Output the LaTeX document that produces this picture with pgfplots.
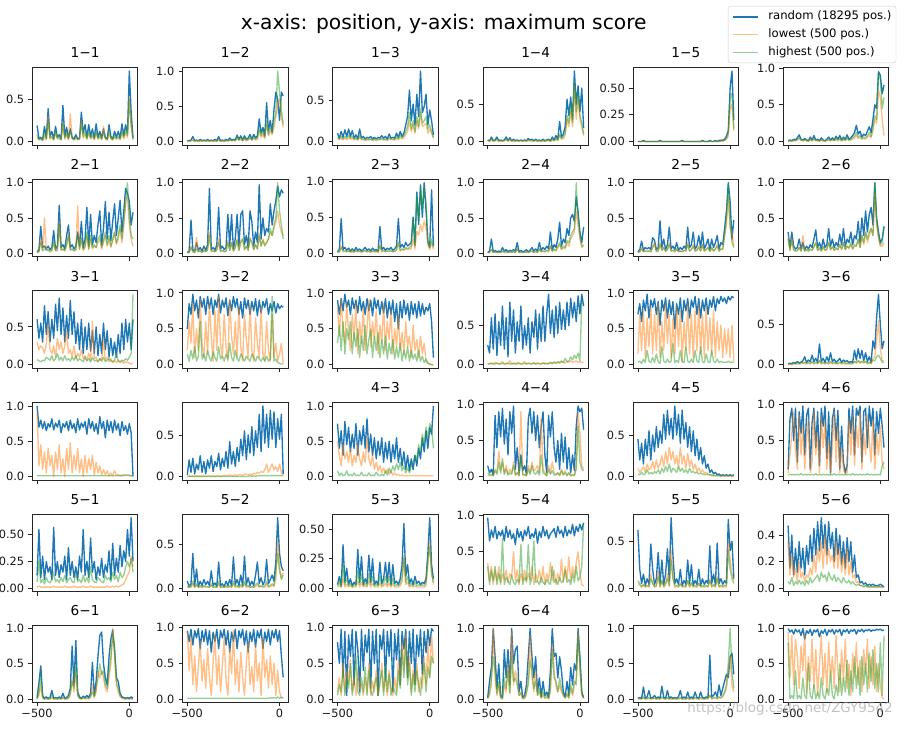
\documentclass[border=0pt]{standalone}
\usepackage{fontspec}
\setmainfont{DejaVu Sans}
\usepackage{pgfplots}
\usepackage{pgfplotstable}
\pgfplotsset{compat=1.18}
\definecolor{mb}{HTML}{1F77B4}
\definecolor{mo}{HTML}{FF7F0E}
\definecolor{mg}{HTML}{2CA02C}
\newcommand\tickfont{\fontsize{11.4}{13}\selectfont}
\newcommand\legfont{\fontsize{11.7}{13}\selectfont}
\pgfplotsset{
  panel/.style={scale only axis, width=105.5bp, height=77.5bp, anchor=south west,
    xmin=-526, xmax=46, xtick={-500,0}, xticklabels={},
    tick align=outside, tick pos=left, major tick length=4bp,
    every tick/.style={black!85, line width=0.8bp},
    axis line style={black!85, line width=0.8bp},
    /pgf/number format/assume math mode=true,
    tick label style={font=\tickfont, text=black!90},
    yticklabel style={font=\tickfont, inner sep=0pt, xshift=-4bp},
    xticklabel style={font=\tickfont, inner sep=0pt, yshift=-2.5bp},
    title style={at={(0.5,1)}, anchor=base, yshift=3.6bp, inner sep=0pt, font=\fontsize{13.7}{16}\selectfont},
    every axis plot/.append style={line width=1.35bp, line join=round, no markers},
  },
  yA/.style={ytick={0,50}, yticklabels={0.0,0.5}},
  yB/.style={ytick={0,50,100}, yticklabels={0.0,0.5,1.0}},
  yC/.style={ytick={0,25,50}, yticklabels={0.00,0.25,0.50}},
  yD/.style={ytick={0,20,40}, yticklabels={0.0,0.2,0.4}},
  xl/.style={xticklabels={−500,0}},
}
\newcommand\panel[6]{%
  \pgfmathsetmacro\ylo{-0.05*#5}\pgfmathsetmacro\yhi{1.05*#5}%
  \begin{axis}[panel, at={(#1bp,#2bp)}, title={#3}, ymin=\ylo, ymax=\yhi, #6]
    \addplot[mb] table[x index=0, y index=1]{#4};
    \addplot[mo, draw opacity=0.5] table[x index=0, y index=2]{#4};
    \addplot[mg, draw opacity=0.5] table[x index=0, y index=3]{#4};
  \end{axis}}

% ---------- row 1 ----------
\pgfplotstableread[row sep=\\]{x b o g\\
-500 19 5 8\\ -490 3 2 2\\ -480 5 3 3\\ -470 2 1 2\\ -460 18 6 10\\ -450 4 2 3\\ -440 39 30 25\\ -430 6 3 4\\ -420 12 4 6\\ -410 3 2 2\\
-400 18 10 12\\ -390 5 3 4\\ -380 8 3 5\\ -370 3 2 2\\ -360 43 20 22\\ -350 6 3 4\\ -340 17 8 10\\ -330 4 2 3\\ -320 15 33 12\\ -310 5 3 4\\
-300 3 2 2\\ -290 8 4 5\\ -280 3 2 3\\ -270 4 2 3\\ -260 35 25 22\\ -250 10 4 6\\ -240 20 8 12\\ -230 5 3 3\\ -220 20 10 12\\ -210 6 3 4\\
-200 15 6 8\\ -190 4 2 3\\ -180 21 10 12\\ -170 5 3 3\\ -160 12 5 7\\ -150 4 2 3\\ -140 15 18 10\\ -130 5 3 4\\ -120 3 2 2\\ -110 20 8 12\\
-100 6 3 4\\ -90 3 2 2\\ -80 12 5 7\\ -70 5 3 3\\ -60 12 4 6\\ -50 4 2 3\\ -40 21 10 12\\ -30 7 3 5\\ -20 20 10 14\\ -10 10 5 7\\
0 84 52 50\\ 10 35 20 18\\ 20 4 2 3\\
}\tAA
\pgfplotstableread[row sep=\\]{x b o g\\
-500 1 0 1\\ -490 1 0 1\\ -480 2 1 1\\ -470 7 1 2\\ -460 1 0 1\\ -450 2 1 1\\ -440 1 0 1\\ -430 3 1 1\\ -420 1 0 1\\ -410 2 1 1\\
-400 1 0 1\\ -390 3 1 1\\ -380 1 0 1\\ -370 2 1 1\\ -360 1 0 1\\ -350 3 1 1\\ -340 1 0 1\\ -330 7 2 3\\ -320 1 0 1\\ -310 2 1 1\\
-300 1 0 1\\ -290 3 1 1\\ -280 1 1 1\\ -270 5 2 2\\ -260 2 1 1\\ -250 3 1 2\\ -240 2 1 1\\ -230 9 5 6\\ -220 3 1 2\\ -210 8 3 6\\
-200 2 1 1\\ -190 8 4 5\\ -180 3 1 2\\ -170 5 2 3\\ -160 10 4 6\\ -150 3 2 2\\ -140 10 5 6\\ -130 5 2 3\\ -120 8 3 5\\ -110 32 15 20\\
-100 12 6 8\\ -90 20 10 14\\ -80 8 4 6\\ -70 55 25 30\\ -60 15 8 10\\ -50 30 15 20\\ -40 12 10 15\\ -30 45 20 30\\ -20 70 35 40\\ -10 60 50 100\\
0 30 60 70\\ 10 70 35 45\\ 20 65 20 25\\
}\tAB
\pgfplotstableread[row sep=\\]{x b o g\\
-500 10 3 5\\ -490 4 2 3\\ -480 12 4 6\\ -470 5 2 3\\ -460 14 4 6\\ -450 6 2 4\\ -440 15 5 8\\ -430 6 3 4\\ -420 13 4 6\\ -410 4 2 3\\
-400 8 3 4\\ -390 3 2 2\\ -380 15 5 8\\ -370 4 2 3\\ -360 6 2 3\\ -350 3 1 2\\ -340 5 2 3\\ -330 4 2 2\\ -320 6 2 3\\ -310 3 1 2\\
-300 5 2 3\\ -290 3 1 2\\ -280 5 2 3\\ -270 4 2 2\\ -260 7 3 4\\ -250 4 2 2\\ -240 6 2 3\\ -230 3 1 2\\ -220 9 3 5\\ -210 4 2 3\\
-200 5 2 3\\ -190 4 2 2\\ -180 10 4 6\\ -170 5 2 3\\ -160 12 5 8\\ -150 6 3 4\\ -140 10 5 7\\ -130 20 8 12\\ -120 30 12 18\\ -110 62 25 35\\
-100 25 12 15\\ -90 45 20 25\\ -80 20 10 12\\ -70 57 25 30\\ -60 30 15 18\\ -50 85 35 40\\ -40 35 18 22\\ -30 42 20 25\\ -20 57 22 30\\ -10 20 10 15\\
0 38 15 20\\ 10 25 10 12\\ 20 8 4 5\\
}\tAC
\pgfplotstableread[row sep=\\]{x b o g\\
-500 2 1 1\\ -490 1 0 1\\ -480 6 2 3\\ -470 1 0 1\\ -460 2 1 1\\ -450 6 2 3\\ -440 1 0 1\\ -430 2 1 1\\ -420 1 0 1\\ -410 2 1 1\\
-400 6 2 3\\ -390 1 0 1\\ -380 5 2 3\\ -370 1 0 1\\ -360 3 1 1\\ -350 1 0 1\\ -340 2 1 1\\ -330 1 0 1\\ -320 2 1 1\\ -310 1 0 1\\
-300 2 1 1\\ -290 1 0 1\\ -280 4 1 2\\ -270 2 1 1\\ -260 3 1 1\\ -250 1 0 1\\ -240 3 1 2\\ -230 1 0 1\\ -220 2 1 1\\ -210 1 0 1\\
-200 3 1 1\\ -190 1 0 1\\ -180 2 1 1\\ -170 3 1 2\\ -160 1 0 1\\ -150 6 2 3\\ -140 2 1 1\\ -130 8 3 4\\ -120 3 1 2\\ -110 27 8 10\\
-100 6 3 4\\ -90 10 4 6\\ -80 20 8 12\\ -70 57 30 35\\ -60 35 20 25\\ -50 60 40 50\\ -40 30 20 25\\ -30 95 75 80\\ -20 50 30 40\\ -10 75 60 65\\
0 40 30 35\\ 10 72 20 25\\ 20 18 8 10\\
}\tAD
\pgfplotstableread[row sep=\\]{x b o g\\
-500 0 0 0\\ -490 0 0 0\\ -480 0 0 0\\ -470 1 0 0\\ -460 0 0 0\\ -450 0 0 0\\ -440 0 0 0\\ -430 0 0 0\\ -420 0 0 0\\ -410 0 0 0\\
-400 0 0 0\\ -390 0 0 0\\ -380 1 0 0\\ -370 0 0 0\\ -360 0 0 0\\ -350 0 0 0\\ -340 0 0 0\\ -330 0 0 0\\ -320 0 0 0\\ -310 0 0 0\\
-300 0 0 0\\ -290 0 0 0\\ -280 0 0 0\\ -270 0 0 0\\ -260 1 0 0\\ -250 0 0 0\\ -240 0 0 0\\ -230 0 0 0\\ -220 0 0 0\\ -210 0 0 0\\
-200 0 0 0\\ -190 0 0 0\\ -180 0 0 0\\ -170 0 0 0\\ -160 0 0 0\\ -150 1 0 0\\ -140 0 0 0\\ -130 0 0 0\\ -120 0 0 0\\ -110 1 0 0\\
-100 0 0 0\\ -90 0 0 0\\ -80 1 0 0\\ -70 0 0 0\\ -60 1 0 0\\ -50 1 0 1\\ -40 1 0 1\\ -30 2 1 1\\ -20 5 2 3\\ -10 10 5 8\\
0 50 30 40\\ 10 66 35 45\\ 20 20 10 12\\
}\tAE
\pgfplotstableread[row sep=\\]{x b o g\\
-500 1 0 1\\ -490 2 1 1\\ -480 1 0 1\\ -470 3 1 2\\ -460 2 1 1\\ -450 5 2 3\\ -440 9 4 5\\ -430 3 1 2\\ -420 2 1 1\\ -410 4 2 2\\
-400 2 1 1\\ -390 1 0 1\\ -380 6 2 3\\ -370 2 1 1\\ -360 8 3 4\\ -350 2 1 1\\ -340 3 1 2\\ -330 1 0 1\\ -320 5 2 3\\ -310 2 1 1\\
-300 1 0 1\\ -290 3 1 2\\ -280 6 2 3\\ -270 2 1 1\\ -260 5 2 3\\ -250 2 1 1\\ -240 7 3 4\\ -230 3 1 2\\ -220 8 3 4\\ -210 2 1 1\\
-200 6 2 3\\ -190 3 1 2\\ -180 9 4 5\\ -170 3 1 2\\ -160 5 2 3\\ -150 8 3 5\\ -140 12 5 7\\ -130 22 8 12\\ -120 10 4 6\\ -110 14 6 8\\
-100 6 3 4\\ -90 10 4 6\\ -80 8 3 5\\ -70 14 6 8\\ -60 20 8 12\\ -50 12 5 7\\ -40 30 15 20\\ -30 50 30 35\\ -20 45 25 30\\ -10 95 70 92\\
0 90 60 85\\ 10 65 30 45\\ 20 77 8 60\\
}\tAF
% ---------- row 2 ----------
\pgfplotstableread[row sep=\\]{x b o g\\
-500 2 1 1\\ -490 5 2 2\\ -480 38 20 15\\ -470 8 3 4\\ -460 10 50 6\\ -450 6 5 4\\ -440 10 4 5\\ -430 5 2 3\\ -420 8 3 4\\ -410 32 15 18\\
-400 6 3 4\\ -390 10 4 5\\ -380 68 45 40\\ -370 8 4 5\\ -360 12 5 6\\ -350 6 3 4\\ -340 25 10 12\\ -330 40 28 25\\ -320 8 4 5\\ -310 12 5 6\\
-300 6 3 4\\ -290 10 4 5\\ -280 30 67 25\\ -270 10 5 6\\ -260 45 20 22\\ -250 8 4 5\\ -240 20 8 10\\ -230 65 25 30\\ -220 10 5 6\\ -210 55 20 25\\
-200 12 6 8\\ -190 25 10 12\\ -180 15 8 8\\ -170 40 15 20\\ -160 60 20 25\\ -150 12 6 8\\ -140 35 15 18\\ -130 73 25 30\\ -120 20 10 12\\ -110 58 20 25\\
-100 18 8 10\\ -90 45 18 20\\ -80 70 30 30\\ -70 25 12 15\\ -60 50 20 25\\ -50 75 35 40\\ -40 30 15 20\\ -30 60 40 45\\ -20 92 75 70\\ -10 85 80 100\\
0 73 40 50\\ 10 40 20 25\\ 20 58 10 20\\
}\tBA
\pgfplotstableread[row sep=\\]{x b o g\\
-500 1 0 1\\ -490 3 1 1\\ -480 47 10 8\\ -470 5 2 2\\ -460 3 1 1\\ -450 15 22 6\\ -440 4 2 2\\ -430 8 3 3\\ -420 3 1 1\\ -410 10 4 4\\
-400 4 2 2\\ -390 12 5 5\\ -380 92 30 25\\ -370 5 2 3\\ -360 8 3 3\\ -350 4 2 2\\ -340 12 5 5\\ -330 65 20 15\\ -320 6 2 3\\ -310 10 4 4\\
-300 5 2 2\\ -290 8 3 3\\ -280 55 18 15\\ -270 10 4 4\\ -260 55 15 15\\ -250 6 3 3\\ -240 20 8 8\\ -230 55 20 18\\ -220 10 4 4\\ -210 55 18 15\\
-200 60 20 20\\ -190 12 5 5\\ -180 25 10 10\\ -170 8 4 4\\ -160 60 22 20\\ -150 45 15 15\\ -140 10 5 5\\ -130 30 12 12\\ -120 15 6 6\\ -110 97 28 25\\
-100 20 10 10\\ -90 50 20 18\\ -80 25 12 10\\ -70 35 15 15\\ -60 30 20 20\\ -50 70 30 35\\ -40 40 25 25\\ -30 60 35 40\\ -20 75 45 50\\ -10 95 60 100\\
0 80 40 60\\ 10 90 30 40\\ 20 85 25 20\\
}\tBB
\pgfplotstableread[row sep=\\]{x b o g\\
-500 2 1 1\\ -490 5 2 2\\ -480 48 10 8\\ -470 5 2 3\\ -460 8 3 3\\ -450 4 2 2\\ -440 7 3 3\\ -430 3 1 2\\ -420 6 2 3\\ -410 3 1 2\\
-400 8 3 4\\ -390 4 2 2\\ -380 6 2 3\\ -370 3 1 2\\ -360 5 2 3\\ -350 8 3 4\\ -340 4 2 2\\ -330 6 2 3\\ -320 3 1 2\\ -310 7 3 3\\
-300 4 2 2\\ -290 5 2 3\\ -280 3 1 2\\ -270 37 12 10\\ -260 5 2 3\\ -250 8 3 4\\ -240 4 2 2\\ -230 7 3 3\\ -220 5 2 3\\ -210 8 3 4\\
-200 4 2 2\\ -190 6 2 3\\ -180 10 4 5\\ -170 48 15 15\\ -160 8 3 4\\ -150 12 5 6\\ -140 8 4 5\\ -130 15 6 8\\ -120 10 5 6\\ -110 12 6 8\\
-100 15 6 10\\ -90 50 20 50\\ -80 10 6 12\\ -70 85 30 80\\ -60 40 25 45\\ -50 95 40 90\\ -40 50 30 60\\ -30 98 45 95\\ -20 60 35 70\\ -10 15 12 20\\
0 8 5 8\\ 10 88 15 20\\ 20 10 5 8\\
}\tBC
\pgfplotstableread[row sep=\\]{x b o g\\
-500 1 0 1\\ -490 3 1 1\\ -480 20 5 5\\ -470 2 1 1\\ -460 4 1 2\\ -450 2 1 1\\ -440 3 1 1\\ -430 2 1 1\\ -420 8 3 3\\ -410 3 1 1\\
-400 5 2 2\\ -390 2 1 1\\ -380 4 2 2\\ -370 3 1 1\\ -360 5 2 2\\ -350 3 1 1\\ -340 15 6 6\\ -330 2 1 1\\ -320 4 1 2\\ -310 2 1 1\\
-300 3 1 1\\ -290 5 2 2\\ -280 2 1 1\\ -270 4 2 2\\ -260 8 3 3\\ -250 3 1 1\\ -240 6 2 3\\ -230 3 1 1\\ -220 15 5 6\\ -210 4 2 2\\
-200 8 3 3\\ -190 5 2 2\\ -180 10 4 4\\ -170 6 2 3\\ -160 30 10 10\\ -150 5 2 3\\ -140 12 5 6\\ -130 8 3 4\\ -120 20 8 10\\ -110 44 12 15\\
-100 10 5 6\\ -90 20 8 10\\ -80 15 6 8\\ -70 35 15 18\\ -60 25 10 15\\ -50 50 20 25\\ -40 55 25 30\\ -30 45 30 35\\ -20 80 60 100\\ -10 58 40 50\\
0 30 20 25\\ 10 15 8 10\\ 20 37 10 12\\
}\tBD
\pgfplotstableread[row sep=\\]{x b o g\\
-500 2 1 1\\ -490 5 2 2\\ -480 17 8 6\\ -470 4 2 2\\ -460 8 3 3\\ -450 6 2 3\\ -440 8 3 3\\ -430 5 2 2\\ -420 22 10 8\\ -410 18 15 12\\
-400 5 2 3\\ -390 8 3 3\\ -380 46 15 12\\ -370 8 4 4\\ -360 20 8 8\\ -350 5 2 3\\ -340 12 5 5\\ -330 37 15 12\\ -320 6 3 3\\ -310 10 4 4\\
-300 5 2 2\\ -290 15 6 6\\ -280 4 2 2\\ -270 8 3 3\\ -260 5 2 2\\ -250 10 4 4\\ -240 6 3 3\\ -230 37 15 12\\ -220 8 3 3\\ -210 12 5 5\\
-200 30 12 10\\ -190 6 3 3\\ -180 10 4 4\\ -170 25 10 8\\ -160 8 3 3\\ -150 30 12 12\\ -140 6 3 3\\ -130 12 5 5\\ -120 20 8 8\\ -110 5 2 3\\
-100 20 8 8\\ -90 8 3 3\\ -80 15 6 6\\ -70 25 12 10\\ -60 6 3 3\\ -50 15 6 6\\ -40 12 5 6\\ -30 35 25 25\\ -20 60 40 50\\ -10 100 80 98\\
0 73 35 40\\ 10 20 30 15\\ 20 47 10 8\\
}\tBE
\pgfplotstableread[row sep=\\]{x b o g\\
-500 30 24 20\\ -490 8 4 4\\ -480 30 20 18\\ -470 10 5 5\\ -460 6 3 3\\ -450 8 4 4\\ -440 20 8 8\\ -430 6 3 3\\ -420 15 25 10\\ -410 5 3 3\\
-400 10 5 5\\ -390 6 3 3\\ -380 12 5 6\\ -370 8 4 4\\ -360 20 8 10\\ -350 33 15 15\\ -340 8 4 4\\ -330 15 6 8\\ -320 6 3 3\\ -310 20 8 10\\
-300 8 4 4\\ -290 12 5 6\\ -280 35 15 15\\ -270 10 5 5\\ -260 20 8 10\\ -250 8 4 4\\ -240 15 6 8\\ -230 10 5 5\\ -220 27 12 12\\ -210 12 5 6\\
-200 35 15 15\\ -190 10 5 5\\ -180 20 10 10\\ -170 15 6 8\\ -160 30 12 15\\ -150 12 6 6\\ -140 25 10 12\\ -130 20 10 10\\ -120 45 20 20\\ -110 15 8 8\\
-100 50 25 25\\ -90 25 12 15\\ -80 60 30 30\\ -70 30 15 20\\ -60 55 25 30\\ -50 65 35 35\\ -40 40 25 25\\ -30 100 85 100\\ -20 50 40 45\\ -10 30 20 25\\
0 15 10 12\\ 10 20 10 15\\ 20 38 15 38\\
}\tBF
% ---------- row 3 ----------
\pgfplotstableread[row sep=\\]{x b o g\\
-500 60 30 7\\ -490 35 20 5\\ -480 55 25 4\\ -470 30 22 6\\ -460 78 15 5\\ -450 40 28 10\\ -440 70 55 8\\ -430 30 20 6\\ -420 60 15 12\\ -410 35 25 5\\
-400 80 10 8\\ -390 45 35 15\\ -380 88 20 6\\ -370 40 30 10\\ -360 75 15 5\\ -350 30 25 12\\ -340 65 45 6\\ -330 35 15 8\\ -320 85 20 5\\ -310 40 10 10\\
-300 70 25 6\\ -290 28 8 12\\ -280 55 15 5\\ -270 20 10 8\\ -260 60 20 6\\ -250 15 8 4\\ -240 50 12 10\\ -230 20 6 5\\ -220 55 15 8\\ -210 18 5 4\\
-200 45 57 10\\ -190 15 8 5\\ -180 50 10 6\\ -170 12 4 4\\ -160 40 8 8\\ -150 15 5 5\\ -140 55 35 10\\ -130 20 6 4\\ -120 45 10 6\\ -110 10 4 8\\
-100 35 8 5\\ -90 12 3 4\\ -80 30 5 6\\ -70 10 3 15\\ -60 40 6 5\\ -50 15 3 4\\ -40 55 5 6\\ -30 20 2 5\\ -20 60 4 8\\ -10 30 3 6\\
0 55 2 10\\ 10 20 1 15\\ 20 60 2 93\\
}\tCA
\pgfplotstableread[row sep=\\]{x b o g\\
-500 50 20 15\\ -490 85 60 5\\ -480 70 30 20\\ -470 98 85 8\\ -460 75 10 25\\ -450 90 50 5\\ -440 65 20 12\\ -430 95 90 60\\ -420 80 30 8\\ -410 92 10 15\\
-400 70 60 5\\ -390 95 15 20\\ -380 78 85 10\\ -370 93 40 5\\ -360 70 5 18\\ -350 90 75 10\\ -340 80 20 5\\ -330 98 95 25\\ -320 72 30 8\\ -310 90 10 12\\
-300 80 70 5\\ -290 93 25 15\\ -280 68 5 8\\ -270 90 90 30\\ -260 75 40 10\\ -250 95 15 5\\ -240 80 60 20\\ -230 92 10 8\\ -220 70 80 5\\ -210 88 25 15\\
-200 65 5 10\\ -190 93 70 5\\ -180 78 35 12\\ -170 90 10 8\\ -160 70 85 5\\ -150 88 20 15\\ -140 75 5 10\\ -130 92 65 5\\ -120 68 30 12\\ -110 90 10 8\\
-100 72 80 5\\ -90 88 15 10\\ -80 80 5 5\\ -70 92 60 12\\ -60 70 20 5\\ -50 85 5 8\\ -40 75 70 95\\ -30 88 10 5\\ -20 72 30 8\\ -10 85 5 3\\
0 78 15 2\\ 10 82 30 1\\ 20 80 2 1\\
}\tCB
\pgfplotstableread[row sep=\\]{x b o g\\
-500 90 80 30\\ -490 70 40 55\\ -480 92 90 20\\ -470 75 50 60\\ -460 98 30 15\\ -450 80 85 50\\ -440 90 45 35\\ -430 70 20 60\\ -420 93 70 15\\ -410 78 35 45\\
-400 90 85 25\\ -390 72 15 50\\ -380 95 60 10\\ -370 75 30 40\\ -360 88 80 20\\ -350 70 20 55\\ -340 92 50 15\\ -330 75 90 35\\ -320 90 25 50\\ -310 68 60 10\\
-300 93 35 40\\ -290 78 75 20\\ -280 90 15 45\\ -270 70 55 10\\ -260 88 30 35\\ -250 72 85 15\\ -240 92 20 40\\ -230 65 60 8\\ -220 88 35 30\\ -210 70 75 15\\
-200 90 15 35\\ -190 60 50 8\\ -180 85 25 25\\ -170 50 70 10\\ -160 88 20 30\\ -150 65 45 5\\ -140 90 15 20\\ -130 70 60 8\\ -120 85 25 25\\ -110 62 40 5\\
-100 88 10 20\\ -90 70 55 8\\ -80 85 20 15\\ -70 65 35 5\\ -60 88 10 20\\ -50 68 40 5\\ -40 85 15 12\\ -30 70 30 3\\ -20 80 5 8\\ -10 75 2 2\\
0 85 1 1\\ 10 60 0 0\\ 20 10 0 0\\
}\tCC
\pgfplotstableread[row sep=\\]{x b o g\\
-500 25 2 1\\ -490 15 1 1\\ -480 60 2 2\\ -470 20 1 1\\ -460 65 3 1\\ -450 12 2 2\\ -440 55 1 1\\ -430 25 2 1\\ -420 75 4 2\\ -410 20 1 1\\
-400 60 2 1\\ -390 10 2 2\\ -380 80 5 1\\ -370 30 1 1\\ -360 70 2 2\\ -350 15 1 1\\ -340 55 3 1\\ -330 30 2 2\\ -320 75 1 1\\ -310 20 2 1\\
-300 50 4 2\\ -290 25 1 1\\ -280 60 2 2\\ -270 15 2 1\\ -260 55 1 1\\ -250 35 3 2\\ -240 70 1 1\\ -230 20 2 2\\ -220 65 2 1\\ -210 30 1 1\\
-200 75 3 2\\ -190 30 2 1\\ -180 65 1 2\\ -170 90 2 1\\ -160 40 3 3\\ -150 70 1 2\\ -140 35 4 3\\ -130 75 2 2\\ -120 40 3 4\\ -110 80 2 3\\
-100 45 4 5\\ -90 70 3 3\\ -80 45 2 8\\ -70 80 4 4\\ -60 50 3 5\\ -50 85 5 10\\ -40 60 3 6\\ -30 80 4 12\\ -20 55 5 8\\ -10 88 3 15\\
0 65 4 5\\ 10 90 3 80\\ 20 75 3 78\\
}\tCD
\pgfplotstableread[row sep=\\]{x b o g\\
-500 70 15 3\\ -490 85 70 5\\ -480 60 20 2\\ -470 90 75 8\\ -460 75 10 3\\ -450 98 65 20\\ -440 65 25 5\\ -430 90 80 3\\ -420 80 15 10\\ -410 92 70 3\\
-400 70 20 15\\ -390 88 85 4\\ -380 55 10 2\\ -370 90 60 25\\ -360 75 20 5\\ -350 93 85 3\\ -340 65 30 8\\ -330 90 70 3\\ -320 70 10 5\\ -310 88 65 30\\
-300 50 15 3\\ -290 85 80 6\\ -280 70 25 3\\ -270 93 75 20\\ -260 60 5 4\\ -250 90 60 3\\ -240 75 20 25\\ -230 92 85 5\\ -220 65 15 3\\ -210 90 70 8\\
-200 80 10 3\\ -190 95 75 20\\ -180 70 20 5\\ -170 92 85 3\\ -160 65 15 25\\ -150 90 70 4\\ -140 75 10 3\\ -130 93 80 15\\ -120 70 20 4\\ -110 90 65 3\\
-100 80 15 20\\ -90 95 75 5\\ -80 75 10 3\\ -70 92 60 8\\ -60 85 20 3\\ -50 95 55 5\\ -40 88 10 3\\ -30 93 50 4\\ -20 85 15 3\\ -10 95 50 5\\
0 90 10 3\\ 10 95 55 4\\ 20 93 5 3\\
}\tCE
\pgfplotstableread[row sep=\\]{x b o g\\
-500 1 0 1\\ -490 2 1 1\\ -480 1 0 2\\ -470 3 1 2\\ -460 2 1 1\\ -450 4 1 3\\ -440 2 1 2\\ -430 3 1 4\\ -420 5 2 2\\ -410 10 2 3\\
-400 3 1 2\\ -390 6 2 3\\ -380 4 1 2\\ -370 12 3 4\\ -360 4 1 2\\ -350 8 2 3\\ -340 3 1 2\\ -330 26 5 5\\ -320 4 1 2\\ -310 8 2 3\\
-300 3 1 2\\ -290 10 2 3\\ -280 4 1 2\\ -270 15 3 4\\ -260 4 1 2\\ -250 7 2 3\\ -240 3 1 2\\ -230 5 1 2\\ -220 8 2 3\\ -210 3 1 2\\
-200 6 2 3\\ -190 4 1 2\\ -180 5 1 2\\ -170 3 1 2\\ -160 4 1 2\\ -150 3 1 2\\ -140 18 4 4\\ -130 6 2 3\\ -120 20 5 5\\ -110 8 2 3\\
-100 18 4 4\\ -90 5 2 3\\ -80 15 4 4\\ -70 4 1 2\\ -60 10 3 3\\ -50 3 1 2\\ -40 30 8 6\\ -30 20 10 5\\ -20 60 30 10\\ -10 88 55 12\\
0 50 20 8\\ 10 20 5 3\\ 20 30 5 3\\
}\tCF
% ---------- row 4 ----------
\pgfplotstableread[row sep=\\]{x b o g\\
-500 100 90 1\\ -490 70 15 1\\ -480 80 45 1\\ -470 68 10 1\\ -460 78 35 1\\ -450 65 5 1\\ -440 75 40 1\\ -430 70 15 1\\ -420 82 30 1\\ -410 66 0 1\\
-400 76 35 1\\ -390 70 10 1\\ -380 80 45 1\\ -370 62 5 1\\ -360 75 25 1\\ -350 70 0 1\\ -340 78 40 1\\ -330 65 10 1\\ -320 80 48 1\\ -310 68 5 1\\
-300 75 30 1\\ -290 62 10 1\\ -280 82 40 1\\ -270 66 5 1\\ -260 76 25 1\\ -250 70 0 1\\ -240 78 30 1\\ -230 60 5 1\\ -220 82 25 1\\ -210 68 10 1\\
-200 78 30 1\\ -190 64 2 1\\ -180 75 20 1\\ -170 60 5 1\\ -160 85 15 1\\ -150 68 2 1\\ -140 78 10 1\\ -130 55 2 1\\ -120 80 8 1\\ -110 65 1 1\\
-100 78 5 1\\ -90 62 1 1\\ -80 80 8 1\\ -70 66 2 1\\ -60 75 3 1\\ -50 58 1 1\\ -40 78 2 1\\ -30 65 1 2\\ -20 72 2 2\\ -10 60 1 2\\
0 75 1 2\\ 10 62 1 1\\ 20 0 0 1\\
}\tDA
\pgfplotstableread[row sep=\\]{x b o g\\
-500 2 0 0\\ -490 20 1 0\\ -480 5 0 0\\ -470 22 1 0\\ -460 3 0 0\\ -450 15 1 0\\ -440 8 0 0\\ -430 25 1 0\\ -420 5 0 0\\ -410 18 1 0\\
-400 3 0 0\\ -390 20 1 0\\ -380 10 1 0\\ -370 25 0 0\\ -360 6 1 0\\ -350 18 0 0\\ -340 12 1 0\\ -330 28 1 0\\ -320 8 0 0\\ -310 22 1 0\\
-300 12 1 0\\ -290 30 1 0\\ -280 10 1 0\\ -270 42 2 0\\ -260 15 1 0\\ -250 30 1 0\\ -240 12 2 0\\ -230 35 1 0\\ -220 18 2 0\\ -210 45 2 0\\
-200 25 1 0\\ -190 55 3 0\\ -180 20 2 0\\ -170 50 2 0\\ -160 28 3 1\\ -150 60 2 0\\ -140 25 4 1\\ -130 55 3 0\\ -120 35 5 1\\ -110 75 4 1\\
-100 30 6 1\\ -90 85 5 1\\ -80 40 8 1\\ -70 75 15 1\\ -60 35 5 1\\ -50 80 10 1\\ -40 45 15 1\\ -30 78 8 1\\ -20 35 12 1\\ -10 70 6 1\\
0 45 15 1\\ 10 75 5 1\\ 20 3 1 1\\
}\tDB
\pgfplotstableread[row sep=\\]{x b o g\\
-500 75 50 8\\ -490 40 30 1\\ -480 65 15 5\\ -470 30 45 1\\ -460 78 25 2\\ -450 45 35 8\\ -440 70 20 1\\ -430 35 40 3\\ -420 60 15 1\\ -410 40 30 5\\
-400 75 20 1\\ -390 30 45 2\\ -380 65 25 1\\ -370 45 15 6\\ -360 72 35 1\\ -350 40 20 2\\ -340 82 55 1\\ -330 35 25 5\\ -320 60 15 1\\ -310 30 30 2\\
-300 55 10 1\\ -290 25 20 6\\ -280 50 8 2\\ -270 30 15 1\\ -260 55 5 3\\ -250 20 12 1\\ -240 48 5 8\\ -230 25 10 2\\ -220 50 3 12\\ -210 20 8 5\\
-200 45 2 15\\ -190 25 5 8\\ -180 55 2 18\\ -170 20 3 10\\ -160 40 1 20\\ -150 15 2 8\\ -140 35 1 15\\ -130 10 1 5\\ -120 30 1 12\\ -110 8 1 5\\
-100 25 1 15\\ -90 10 1 20\\ -80 30 1 30\\ -70 15 1 25\\ -60 40 1 45\\ -50 25 1 35\\ -40 55 1 60\\ -30 35 1 45\\ -20 65 1 70\\ -10 40 1 55\\
0 70 1 75\\ 10 60 1 70\\ 20 100 1 40\\
}\tDC
\pgfplotstableread[row sep=\\]{x b o g\\
-500 15 2 5\\ -490 5 1 2\\ -480 10 2 3\\ -470 2 1 1\\ -460 85 10 8\\ -450 40 5 3\\ -440 90 35 20\\ -430 55 8 5\\ -420 95 20 25\\ -410 45 5 3\\
-400 80 15 10\\ -390 30 3 2\\ -380 90 10 5\\ -370 60 5 3\\ -360 98 20 15\\ -350 10 2 2\\ -340 40 5 5\\ -330 5 1 1\\ -320 30 90 25\\ -310 8 2 3\\
-300 15 3 2\\ -290 3 1 1\\ -280 80 15 10\\ -270 95 5 3\\ -260 60 20 15\\ -250 90 8 5\\ -240 50 10 3\\ -230 85 15 8\\ -220 40 5 2\\ -210 70 80 30\\
-200 90 10 5\\ -190 30 5 3\\ -180 5 1 1\\ -170 85 15 10\\ -160 55 5 3\\ -150 90 20 8\\ -140 40 5 2\\ -130 20 3 2\\ -120 50 5 5\\ -110 10 2 1\\
-100 60 10 8\\ -90 20 3 2\\ -80 55 8 5\\ -70 10 2 1\\ -60 40 5 5\\ -50 5 1 1\\ -40 30 3 2\\ -30 8 2 1\\ -20 70 15 10\\ -10 98 90 70\\
0 90 60 20\\ 10 95 15 10\\ 20 65 10 8\\
}\tDD
\pgfplotstableread[row sep=\\]{x b o g\\
-500 45 10 3\\ -490 20 5 2\\ -480 40 8 5\\ -470 15 12 2\\ -460 45 5 3\\ -450 25 15 8\\ -440 55 8 3\\ -430 20 10 5\\ -420 50 18 3\\ -410 30 8 6\\
-400 60 20 4\\ -390 35 10 8\\ -380 55 15 3\\ -370 40 25 10\\ -360 75 12 5\\ -350 45 30 12\\ -340 80 15 6\\ -330 50 35 15\\ -320 70 20 5\\ -310 45 30 10\\
-300 85 15 8\\ -290 50 25 5\\ -280 75 10 12\\ -270 40 35 6\\ -260 80 15 10\\ -250 45 25 5\\ -240 65 10 8\\ -230 35 28 4\\ -220 60 12 10\\ -210 30 20 5\\
-200 55 8 6\\ -190 25 15 4\\ -180 45 6 5\\ -170 20 10 3\\ -160 35 5 4\\ -150 15 8 3\\ -140 25 4 2\\ -130 10 5 3\\ -120 15 3 2\\ -110 5 2 2\\
-100 8 2 1\\ -90 3 1 1\\ -80 5 1 1\\ -70 2 1 1\\ -60 3 1 1\\ -50 1 0 1\\ -40 2 1 1\\ -30 1 0 1\\ -20 2 1 1\\ -10 1 0 1\\
0 2 1 1\\ 10 1 0 1\\ 20 2 1 1\\
}\tDE
\pgfplotstableread[row sep=\\]{x b o g\\
-500 10 5 2\\ -490 80 30 3\\ -480 95 60 2\\ -470 50 90 3\\ -460 95 40 2\\ -450 20 10 3\\ -440 90 85 2\\ -430 60 30 4\\ -420 98 70 2\\ -410 30 10 3\\
-400 85 50 2\\ -390 95 80 3\\ -380 10 5 2\\ -370 75 20 3\\ -360 95 90 2\\ -350 40 30 4\\ -340 90 60 2\\ -330 15 5 3\\ -320 95 85 2\\ -310 70 40 3\\
-300 98 75 2\\ -290 25 10 3\\ -280 90 50 2\\ -270 5 2 3\\ -260 80 45 2\\ -250 95 90 4\\ -240 50 20 2\\ -230 92 70 3\\ -220 10 5 2\\ -210 70 40 3\\
-200 20 10 2\\ -190 5 3 3\\ -180 15 5 2\\ -170 95 80 3\\ -160 60 30 2\\ -150 98 85 4\\ -140 30 15 2\\ -130 95 70 3\\ -120 85 40 2\\ -110 98 90 3\\
-100 20 10 2\\ -90 90 60 3\\ -80 95 30 2\\ -70 40 85 4\\ -60 98 50 2\\ -50 70 20 3\\ -40 95 80 2\\ -30 30 10 3\\ -20 90 60 2\\ -10 60 30 3\\
0 95 70 2\\ 10 70 20 15\\ 20 40 10 20\\
}\tDF
% ---------- row 5 ----------
\pgfplotstableread[row sep=\\]{x b o g\\
-500 12 1 6\\ -490 55 2 25\\ -480 10 1 5\\ -470 30 1 8\\ -460 8 1 4\\ -450 25 1 10\\ -440 15 1 6\\ -430 20 1 5\\ -420 8 1 8\\ -410 57 2 15\\
-400 12 1 6\\ -390 25 1 8\\ -380 10 1 5\\ -370 22 1 10\\ -360 15 1 6\\ -350 30 2 12\\ -340 8 1 5\\ -330 38 1 8\\ -320 12 1 10\\ -310 25 1 6\\
-300 10 2 5\\ -290 20 1 15\\ -280 8 1 6\\ -270 30 1 8\\ -260 15 1 5\\ -250 55 2 12\\ -240 12 1 6\\ -230 25 1 10\\ -220 10 1 5\\ -210 47 2 20\\
-200 15 1 8\\ -190 25 1 6\\ -180 8 1 5\\ -170 20 1 10\\ -160 12 1 8\\ -150 28 1 6\\ -140 10 1 5\\ -130 22 1 12\\ -120 15 2 8\\ -110 35 1 10\\
-100 8 1 6\\ -90 42 2 15\\ -80 12 1 8\\ -70 28 2 12\\ -60 15 1 6\\ -50 40 2 15\\ -40 20 3 10\\ -30 35 4 12\\ -20 25 8 20\\ -10 55 12 25\\
0 30 15 20\\ 10 66 30 28\\ 20 25 20 15\\
}\tEA
\pgfplotstableread[row sep=\\]{x b o g\\
-500 8 1 2\\ -490 2 1 1\\ -480 5 1 2\\ -470 40 5 8\\ -460 3 1 1\\ -450 22 3 5\\ -440 2 1 1\\ -430 8 1 3\\ -420 3 1 1\\ -410 10 2 3\\
-400 4 1 2\\ -390 8 1 2\\ -380 3 1 1\\ -370 20 3 5\\ -360 3 1 1\\ -350 6 1 2\\ -340 2 1 1\\ -330 30 5 8\\ -320 3 1 1\\ -310 5 1 2\\
-300 2 1 1\\ -290 8 1 3\\ -280 3 1 1\\ -270 10 2 3\\ -260 3 1 1\\ -250 36 5 8\\ -240 4 1 2\\ -230 10 2 3\\ -220 3 1 1\\ -210 15 2 4\\
-200 3 1 2\\ -190 37 5 8\\ -180 4 1 2\\ -170 12 2 3\\ -160 3 1 1\\ -150 8 1 2\\ -140 3 1 1\\ -130 15 2 4\\ -120 30 4 6\\ -110 5 1 2\\
-100 12 2 3\\ -90 4 1 2\\ -80 8 1 3\\ -70 33 5 8\\ -60 5 1 2\\ -50 10 2 3\\ -40 15 3 5\\ -30 8 2 3\\ -20 30 10 20\\ -10 81 55 40\\
0 40 25 20\\ 10 25 12 10\\ 20 20 18 15\\
}\tEB
\pgfplotstableread[row sep=\\]{x b o g\\
-500 3 1 2\\ -490 10 2 5\\ -480 2 1 1\\ -470 37 8 20\\ -460 5 1 3\\ -450 17 3 8\\ -440 3 1 2\\ -430 8 2 4\\ -420 2 1 1\\ -410 5 1 3\\
-400 3 1 2\\ -390 33 6 15\\ -380 5 1 3\\ -370 27 5 12\\ -360 3 1 2\\ -350 8 2 4\\ -340 4 1 2\\ -330 28 6 12\\ -320 5 1 3\\ -310 25 4 10\\
-300 3 1 2\\ -290 6 1 3\\ -280 3 1 2\\ -270 22 4 10\\ -260 4 1 2\\ -250 8 2 4\\ -240 22 4 10\\ -230 5 1 3\\ -220 22 4 10\\ -210 3 1 2\\
-200 20 4 8\\ -190 4 1 2\\ -180 6 1 3\\ -170 3 1 2\\ -160 8 2 4\\ -150 20 5 10\\ -140 55 28 25\\ -130 10 3 5\\ -120 20 5 10\\ -110 4 1 2\\
-100 8 2 4\\ -90 3 1 2\\ -80 10 2 5\\ -70 4 1 2\\ -60 6 1 3\\ -50 3 1 2\\ -40 5 1 3\\ -30 4 1 2\\ -20 8 2 5\\ -10 30 20 25\\
0 60 40 35\\ 10 20 15 12\\ 20 8 3 5\\
}\tEC
\pgfplotstableread[row sep=\\]{x b o g\\
-500 97 35 30\\ -490 65 10 5\\ -480 80 30 25\\ -470 70 5 10\\ -460 85 25 30\\ -450 68 10 5\\ -440 78 30 20\\ -430 72 5 8\\ -420 80 20 68\\ -410 65 12 5\\
-400 85 25 15\\ -390 70 8 10\\ -380 80 20 5\\ -370 68 15 18\\ -360 75 50 8\\ -350 60 10 5\\ -340 82 25 12\\ -330 70 5 8\\ -320 78 20 60\\ -310 65 10 5\\
-300 80 25 15\\ -290 72 8 10\\ -280 85 20 60\\ -270 68 12 5\\ -260 75 30 15\\ -250 70 5 65\\ -240 82 20 8\\ -230 62 10 10\\ -220 78 25 5\\ -210 70 8 15\\
-200 85 30 8\\ -190 72 5 5\\ -180 80 20 12\\ -170 68 10 8\\ -160 75 35 5\\ -150 78 10 30\\ -140 82 25 8\\ -130 70 5 12\\ -120 85 20 5\\ -110 75 10 15\\
-100 80 40 8\\ -90 70 8 10\\ -80 85 30 25\\ -70 72 12 8\\ -60 80 43 12\\ -50 75 10 5\\ -40 88 30 20\\ -30 72 15 8\\ -20 85 35 30\\ -10 78 50 10\\
0 88 20 15\\ 10 80 5 30\\ 20 90 3 90\\
}\tED
\pgfplotstableread[row sep=\\]{x b o g\\
-500 62 5 8\\ -490 20 3 5\\ -480 5 1 2\\ -470 15 3 4\\ -460 3 1 2\\ -450 10 2 3\\ -440 4 1 2\\ -430 47 15 10\\ -420 20 5 5\\ -410 4 1 2\\
-400 10 2 3\\ -390 38 18 12\\ -380 5 1 2\\ -370 30 8 8\\ -360 4 1 2\\ -350 15 3 5\\ -340 42 15 10\\ -330 8 2 3\\ -320 75 40 30\\ -310 35 12 10\\
-300 5 1 3\\ -290 10 2 3\\ -280 4 1 2\\ -270 20 4 5\\ -260 3 1 2\\ -250 8 2 3\\ -240 4 1 2\\ -230 30 8 8\\ -220 5 1 2\\ -210 25 5 6\\
-200 3 1 2\\ -190 8 2 3\\ -180 4 1 2\\ -170 20 5 5\\ -160 3 1 2\\ -150 10 2 3\\ -140 4 1 2\\ -130 8 2 3\\ -120 5 1 2\\ -110 45 10 8\\
-100 5 1 2\\ -90 15 3 4\\ -80 4 1 2\\ -70 48 12 10\\ -60 5 1 2\\ -50 10 2 3\\ -40 4 1 2\\ -30 8 2 3\\ -20 5 1 3\\ -10 73 50 40\\
0 40 30 20\\ 10 50 15 10\\ 20 10 8 5\\
}\tEE
\pgfplotstableread[row sep=\\]{x b o g\\
-500 47 35 5\\ -490 15 10 3\\ -480 40 25 8\\ -470 10 8 2\\ -460 30 15 5\\ -450 12 5 3\\ -440 35 20 6\\ -430 15 8 3\\ -420 30 12 5\\ -410 10 5 2\\
-400 32 10 6\\ -390 18 8 3\\ -380 40 15 8\\ -370 20 10 4\\ -360 45 25 6\\ -350 25 12 8\\ -340 50 30 10\\ -330 28 20 5\\ -320 53 35 12\\ -310 30 15 8\\
-300 48 40 10\\ -290 25 18 5\\ -280 50 30 12\\ -270 30 20 8\\ -260 42 25 6\\ -250 20 15 10\\ -240 45 35 5\\ -230 25 15 8\\ -220 40 30 6\\ -210 18 12 4\\
-200 35 25 8\\ -190 15 10 5\\ -180 38 30 4\\ -170 20 10 6\\ -160 35 20 3\\ -150 12 8 5\\ -140 25 10 3\\ -130 8 4 2\\ -120 10 5 3\\ -110 4 2 2\\
-100 5 2 2\\ -90 3 1 1\\ -80 4 2 2\\ -70 2 1 1\\ -60 3 1 1\\ -50 2 1 1\\ -40 3 1 1\\ -30 2 1 1\\ -20 2 1 1\\ -10 2 1 1\\
0 3 1 1\\ 10 2 1 1\\ 20 1 1 1\\
}\tEF
% ---------- row 6 ----------
\pgfplotstableread[row sep=\\]{x b o g\\
-500 2 0 0\\ -490 23 5 10\\ -480 47 20 35\\ -470 5 1 2\\ -460 1 0 0\\ -450 3 0 1\\ -440 1 0 0\\ -430 2 0 0\\ -420 12 2 5\\ -410 1 0 0\\
-400 2 0 0\\ -390 1 0 0\\ -380 3 0 1\\ -370 1 0 0\\ -360 8 1 2\\ -350 1 0 0\\ -340 2 0 0\\ -330 5 1 2\\ -320 15 5 8\\ -310 75 30 25\\
-300 20 10 15\\ -290 83 40 50\\ -280 10 5 5\\ -270 3 1 1\\ -260 1 0 0\\ -250 4 1 2\\ -240 2 0 1\\ -230 5 1 2\\ -220 2 0 1\\ -210 8 2 4\\
-200 52 20 10\\ -190 5 2 3\\ -180 25 10 15\\ -170 60 40 30\\ -160 90 30 50\\ -150 95 40 35\\ -140 50 30 40\\ -130 30 15 20\\ -120 20 10 15\\ -110 60 30 40\\
-100 85 50 60\\ -90 98 100 90\\ -80 70 60 75\\ -70 30 20 25\\ -60 25 10 15\\ -50 8 3 5\\ -40 3 1 2\\ -30 2 0 1\\ -20 1 0 0\\ -10 2 0 1\\
0 1 0 0\\ 10 3 0 1\\ 20 1 0 0\\
}\tFA
\pgfplotstableread[row sep=\\]{x b o g\\
-500 95 95 1\\ -490 80 40 1\\ -480 97 85 1\\ -470 75 20 1\\ -460 95 60 1\\ -450 85 10 1\\ -440 98 45 1\\ -430 70 80 1\\ -420 95 25 1\\ -410 80 55 1\\
-400 97 15 1\\ -390 75 70 1\\ -380 95 30 1\\ -370 65 5 1\\ -360 93 50 1\\ -350 80 90 1\\ -340 97 20 1\\ -330 70 60 1\\ -320 95 10 1\\ -310 85 45 1\\
-300 97 85 1\\ -290 75 25 1\\ -280 95 5 1\\ -270 65 70 1\\ -260 93 35 1\\ -250 80 95 1\\ -240 97 20 1\\ -230 70 55 1\\ -220 95 10 1\\ -210 85 65 1\\
-200 97 30 1\\ -190 75 5 1\\ -180 95 50 1\\ -170 65 80 1\\ -160 93 20 1\\ -150 80 45 1\\ -140 97 10 1\\ -130 72 75 1\\ -120 95 25 1\\ -110 85 50 1\\
-100 97 5 1\\ -90 70 85 1\\ -80 93 30 1\\ -70 80 55 1\\ -60 97 15 1\\ -50 75 60 2\\ -40 95 20 1\\ -30 85 50 2\\ -20 97 5 1\\ -10 80 40 3\\
0 95 10 1\\ 10 60 2 2\\ 20 30 1 2\\
}\tFB
\pgfplotstableread[row sep=\\]{x b o g\\
-500 80 10 5\\ -490 50 30 20\\ -480 98 5 10\\ -470 30 50 40\\ -460 95 10 5\\ -450 5 40 30\\ -440 90 20 15\\ -430 60 55 50\\ -420 98 10 5\\ -410 20 30 25\\
-400 95 5 60\\ -390 70 40 10\\ -380 10 15 5\\ -370 98 20 30\\ -360 40 5 10\\ -350 90 30 45\\ -340 65 10 5\\ -330 98 50 40\\ -320 15 5 10\\ -310 95 25 5\\
-300 50 10 20\\ -290 98 40 30\\ -280 5 5 5\\ -270 90 20 25\\ -260 70 50 40\\ -250 98 10 5\\ -240 25 30 50\\ -230 95 5 10\\ -220 60 40 35\\ -210 98 15 5\\
-200 10 5 20\\ -190 92 30 10\\ -180 55 10 5\\ -170 98 55 40\\ -160 20 20 15\\ -150 95 80 70\\ -140 70 40 30\\ -130 98 90 80\\ -120 30 30 20\\ -110 95 60 50\\
-100 50 10 5\\ -90 98 40 35\\ -80 20 20 10\\ -70 90 50 40\\ -60 60 10 20\\ -50 98 30 5\\ -40 35 15 35\\ -30 95 60 50\\ -20 65 20 10\\ -10 98 80 45\\
0 75 30 30\\ 10 99 90 60\\ 20 95 50 50\\
}\tFC
\pgfplotstableread[row sep=\\]{x b o g\\
-500 2 0 1\\ -490 25 5 10\\ -480 45 20 30\\ -470 100 100 60\\ -460 60 30 40\\ -450 15 5 8\\ -440 50 20 25\\ -430 5 1 2\\ -420 2 0 1\\ -410 70 20 30\\
-400 30 10 15\\ -390 70 50 40\\ -380 20 10 8\\ -370 100 95 60\\ -360 50 20 25\\ -350 70 40 30\\ -340 75 30 20\\ -330 10 5 5\\ -320 25 10 8\\ -310 2 0 1\\
-300 5 1 2\\ -290 20 5 10\\ -280 60 30 20\\ -270 100 90 55\\ -260 60 30 40\\ -250 30 10 15\\ -240 60 40 25\\ -230 10 5 5\\ -220 30 10 15\\ -210 3 1 2\\
-200 25 5 10\\ -190 5 1 2\\ -180 10 2 5\\ -170 2 0 1\\ -160 40 10 15\\ -150 100 80 70\\ -140 60 40 30\\ -130 65 20 25\\ -120 30 10 10\\ -110 60 20 30\\
-100 40 10 15\\ -90 10 5 5\\ -80 3 1 2\\ -70 25 5 8\\ -60 5 1 2\\ -50 45 15 20\\ -40 20 5 8\\ -30 50 20 25\\ -20 40 30 20\\ -10 100 95 90\\
0 60 40 50\\ 10 10 5 8\\ 20 2 1 1\\
}\tFD
\pgfplotstableread[row sep=\\]{x b o g\\
-500 1 0 0\\ -490 2 0 1\\ -480 1 0 0\\ -470 17 2 3\\ -460 1 0 0\\ -450 3 0 1\\ -440 12 1 2\\ -430 1 0 0\\ -420 2 0 1\\ -410 5 1 1\\
-400 1 0 0\\ -390 3 0 1\\ -380 1 0 0\\ -370 18 2 3\\ -360 2 0 1\\ -350 1 0 0\\ -340 12 1 2\\ -330 1 0 0\\ -320 3 0 1\\ -310 1 0 0\\
-300 2 0 1\\ -290 1 0 0\\ -280 3 0 1\\ -270 12 1 2\\ -260 1 0 0\\ -250 3 0 1\\ -240 1 0 0\\ -230 10 1 2\\ -220 1 0 0\\ -210 3 0 1\\
-200 1 0 0\\ -190 10 1 2\\ -180 2 0 1\\ -170 1 0 0\\ -160 10 1 2\\ -150 2 0 1\\ -140 1 0 0\\ -130 3 0 1\\ -120 2 0 1\\ -110 62 5 5\\
-100 3 0 1\\ -90 5 1 2\\ -80 10 1 2\\ -70 3 0 1\\ -60 20 2 3\\ -50 5 1 2\\ -40 15 3 5\\ -30 25 8 10\\ -20 35 15 20\\ -10 30 40 50\\
0 60 60 100\\ 10 65 20 40\\ 20 35 10 15\\
}\tFE
\pgfplotstableread[row sep=\\]{x b o g\\
-500 100 95 80\\ -490 95 30 0\\ -480 98 90 5\\ -470 92 20 0\\ -460 99 85 40\\ -450 95 60 0\\ -440 98 15 5\\ -430 90 75 0\\ -420 100 40 30\\ -410 85 95 5\\
-400 97 10 0\\ -390 93 60 50\\ -380 99 25 5\\ -370 90 85 0\\ -360 98 15 20\\ -350 95 70 0\\ -340 99 5 10\\ -330 88 50 0\\ -320 97 90 30\\ -310 93 20 5\\
-300 99 65 0\\ -290 90 10 15\\ -280 98 80 5\\ -270 95 30 40\\ -260 99 60 5\\ -250 92 15 0\\ -240 98 90 20\\ -230 95 40 5\\ -220 99 10 50\\ -210 90 70 5\\
-200 98 25 30\\ -190 95 85 10\\ -180 99 15 55\\ -170 93 50 5\\ -160 98 5 40\\ -150 96 65 10\\ -140 99 30 60\\ -130 92 80 15\\ -120 98 20 45\\ -110 96 55 5\\
-100 99 10 60\\ -90 95 70 20\\ -80 98 35 50\\ -70 97 85 10\\ -60 99 15 65\\ -50 96 60 25\\ -40 98 20 70\\ -30 97 75 15\\ -20 99 10 50\\ -10 98 50 10\\
0 99 20 80\\ 10 97 2 5\\ 20 98 0 90\\
}\tFF

\begin{document}
\begin{tikzpicture}[x=1bp,y=1bp]
\useasboundingbox (0,0) rectangle (907,729);
% row 1
\panel{32.3}{584}{1−1}{\tAA}{84}{yA}
\panel{182.5}{584}{1−2}{\tAB}{100}{yB}
\panel{332.7}{584}{1−3}{\tAC}{85}{yA}
\panel{482.9}{584}{1−4}{\tAD}{95}{yA}
\panel{633.1}{584}{1−5}{\tAE}{66}{yC}
\panel{783.3}{584}{1−6}{\tAF}{96}{yB, legend entries={random (18295 pos.),lowest (500 pos.),highest (500 pos.)},
  legend style={at={(1.07,1.794)}, anchor=north east, draw=black!20, rounded corners=2.5bp, fill=white,
  font=\legfont, inner xsep=4.5bp, inner ysep=4.7bp, row sep=5.7bp, column sep=10bp,
  nodes={font=\legfont, inner sep=0pt, text height=9bp, text depth=3bp}}, legend cell align=left,
  legend image code/.code={\draw[#1] (0bp,0bp) -- (24.4bp,0bp);}}
% row 2
\panel{32.3}{472.3}{2−1}{\tBA}{100}{yB}
\panel{182.5}{472.3}{2−2}{\tBB}{100}{yB}
\panel{332.7}{472.3}{2−3}{\tBC}{98}{yB}
\panel{482.9}{472.3}{2−4}{\tBD}{100}{yB}
\panel{633.1}{472.3}{2−5}{\tBE}{100}{yB}
\panel{783.3}{472.3}{2−6}{\tBF}{100}{yB}
% row 3
\panel{32.3}{360.7}{3−1}{\tCA}{93}{yA}
\panel{182.5}{360.7}{3−2}{\tCB}{98}{yB}
\panel{332.7}{360.7}{3−3}{\tCC}{98}{yB}
\panel{482.9}{360.7}{3−4}{\tCD}{90}{yA}
\panel{633.1}{360.7}{3−5}{\tCE}{98}{yB}
\panel{783.3}{360.7}{3−6}{\tCF}{88}{yA}
% row 4
\panel{32.3}{249}{4−1}{\tDA}{100}{yB}
\panel{182.5}{249}{4−2}{\tDB}{85}{yA}
\panel{332.7}{249}{4−3}{\tDC}{100}{yB}
\panel{482.9}{249}{4−4}{\tDD}{98}{yB}
\panel{633.1}{249}{4−5}{\tDE}{85}{yA}
\panel{783.3}{249}{4−6}{\tDF}{98}{yB}
% row 5
\panel{32.3}{137.3}{5−1}{\tEA}{66}{yC}
\panel{182.5}{137.3}{5−2}{\tEB}{81}{yA}
\panel{332.7}{137.3}{5−3}{\tEC}{60}{yC}
\panel{482.9}{137.3}{5−4}{\tED}{97}{yB}
\panel{633.1}{137.3}{5−5}{\tEE}{75}{yA}
\panel{783.3}{137.3}{5−6}{\tEF}{53}{yD}
% row 6
\panel{32.3}{26.5}{6−1}{\tFA}{100}{yB, xl}
\panel{182.5}{26.5}{6−2}{\tFB}{98}{yB, xl}
\panel{332.7}{26.5}{6−3}{\tFC}{99}{yB, xl}
\panel{482.9}{26.5}{6−4}{\tFD}{100}{yB, xl}
\panel{633.1}{26.5}{6−5}{\tFE}{100}{yB, xl}
\panel{783.3}{26.5}{6−6}{\tFF}{100}{yB, xl}
\node[anchor=base, font=\fontsize{20.3}{24}\selectfont] at (443.7,699) {x-axis: position, y-axis: maximum score};
\node[text=black!40, opacity=0.6, font=\fontsize{13.5}{16}\selectfont] at (790,20) {https://blog.csdn.net/ZGY9542};
\end{tikzpicture}
\end{document}
